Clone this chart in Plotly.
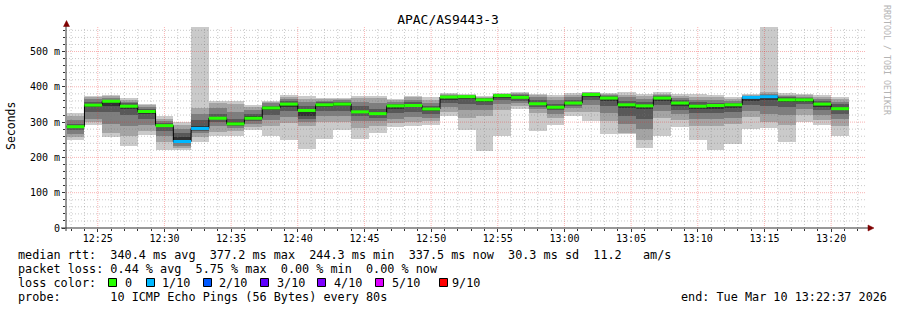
import plotly.graph_objects as go
import pandas as pd

# ---------------- data ----------------
TITLE = "APAC/AS9443-3"
FIRST_BAR = "2026-03-10 12:22:40"
STEP_SECONDS = 80
WINDOW_START = "2026-03-10 12:22:37"
WINDOW_END = "2026-03-10 13:22:37"

# 10 sorted ping round-trip times (ms) for every 80 s step
ping_ms = [
    [248, 259, 266, 278, 284, 290, 296, 307, 318, 326],
    [293, 300, 310, 330, 343, 352, 358, 366, 371, 375],
    [257, 270, 295, 330, 345, 361, 364, 369, 373, 376],
    [231, 262, 290, 320, 338, 348, 354, 358, 364, 368],
    [264, 276, 292, 310, 324, 333, 338, 343, 348, 352],
    [220, 245, 262, 275, 285, 293, 298, 304, 310, 316],
    [222, 227, 233, 240, 244, 258, 268, 280, 292, 299],
    [243, 258, 268, 276, 280, 290, 305, 322, 340, 569],
    [260, 271, 288, 300, 308, 314, 322, 340, 354, 361],
    [260, 275, 284, 290, 293, 300, 310, 330, 350, 359],
    [278, 285, 294, 302, 308, 316, 322, 333, 342, 349],
    [261, 288, 305, 320, 334, 342, 347, 353, 357, 361],
    [250, 297, 315, 332, 344, 353, 360, 366, 372, 378],
    [225, 290, 300, 308, 318, 335, 346, 358, 366, 373],
    [252, 300, 318, 332, 343, 350, 356, 361, 365, 368],
    [278, 300, 318, 332, 345, 353, 358, 362, 365, 368],
    [252, 282, 302, 316, 326, 332, 345, 358, 368, 375],
    [269, 288, 302, 312, 320, 326, 338, 355, 368, 375],
    [285, 298, 310, 325, 336, 347, 352, 357, 362, 366],
    [288, 300, 315, 330, 342, 349, 356, 364, 370, 375],
    [293, 302, 312, 322, 332, 339, 346, 355, 364, 370],
    [316, 330, 342, 355, 364, 372, 375, 378, 380, 382],
    [278, 311, 335, 352, 365, 373, 375, 377, 378, 380],
    [217, 316, 335, 348, 358, 365, 367, 369, 371, 373],
    [260, 335, 352, 362, 371, 376, 378, 380, 381, 383],
    [338, 345, 354, 360, 366, 372, 376, 379, 382, 385],
    [276, 326, 336, 343, 348, 354, 362, 370, 376, 380],
    [292, 312, 324, 333, 338, 344, 352, 362, 370, 376],
    [316, 330, 340, 346, 352, 358, 364, 372, 378, 382],
    [302, 330, 348, 362, 372, 378, 380, 382, 384, 385],
    [267, 302, 325, 345, 360, 369, 373, 376, 379, 382],
    [266, 270, 295, 318, 340, 350, 360, 370, 378, 385],
    [226, 250, 280, 310, 336, 348, 358, 366, 374, 380],
    [260, 312, 332, 348, 360, 369, 373, 377, 381, 385],
    [285, 305, 322, 335, 347, 356, 362, 368, 375, 380],
    [248, 290, 308, 325, 338, 347, 356, 364, 372, 379],
    [222, 290, 308, 325, 338, 348, 355, 362, 370, 376],
    [237, 295, 312, 328, 340, 350, 355, 360, 365, 370],
    [281, 315, 332, 348, 360, 371, 373, 375, 377, 379],
    [283, 300, 322, 345, 362, 373, 376, 380, 385, 569],
    [245, 293, 320, 342, 356, 365, 370, 374, 378, 382],
    [300, 321, 338, 350, 358, 365, 368, 372, 376, 379],
    [292, 305, 320, 334, 344, 353, 360, 366, 372, 378],
    [262, 290, 308, 322, 333, 341, 350, 358, 366, 372],
]

median_ms = [287, 348, 359, 345, 330, 290, 245, 282, 311, 295, 311, 340, 351, 333,
             349, 351, 329, 324, 346, 347, 337, 371, 372, 363, 375, 370, 352, 342,
             354, 378, 368, 349, 346, 368, 354, 345, 347, 349, 370, 372, 363, 363,
             351, 338]

lost_pings = [0, 0, 0, 0, 0, 0, 1, 1, 0, 0, 0, 0, 0, 0, 0, 0, 0, 0, 0, 0, 0, 0,
              0, 0, 0, 0, 0, 0, 0, 0, 0, 0, 0, 0, 0, 0, 0, 0, 1, 1, 0, 0, 0, 0]

loss_labels = ["0", "1/10", "2/10", "3/10", "4/10", "5/10", "9/10"]
loss_lost_counts = [0, 1, 2, 3, 4, 5, 9]
loss_colors = ["#26ff00", "#00b8ff", "#0059ff", "#5e00ff", "#7e00ff", "#dd00ff", "#ff0000"]

y_tick_vals = [0, 100, 200, 300, 400, 500]
y_tick_text = ["0", "100 m", "200 m", "300 m", "400 m", "500 m"]
Y_MAX = 569.4

line_median = "median rtt:  340.4 ms avg  377.2 ms max  244.3 ms min  337.5 ms now  30.3 ms sd  11.2   am/s"
line_loss = "packet loss: 0.44 % avg  5.75 % max  0.00 % min  0.00 % now"
line_color = "loss color:"
line_probe = "probe:       10 ICMP Echo Pings (56 Bytes) every 80s"
line_end = "end: Tue Mar 10 13:22:37 2026"
y_title = "Seconds"
credit = "RRDTOOL / TOBI OETIKER"

# ---------------- styles / layout ----------------
SMOKE = ["#cacaca", "#a4a4a4", "#7e7e7e", "#585858", "#323232"]
MONO = "DejaVu Sans Mono"
W, H = 897, 310
L, R, T, B = 66, 31, 27, 82
PW, PH = W - L - R, H - T - B


def px(x):
    return (x - L) / PW


def py(y):
    return (T + PH - y) / PH


def nb(s):
    return s.replace(" ", "\u00a0")


fmt = "%Y-%m-%d %H:%M:%S"
t_first = pd.Timestamp(FIRST_BAR)
step = pd.Timedelta(seconds=STEP_SECONDS)
n = len(median_ms)
starts = [t_first + step * i for i in range(n)]
ends = [s + step for s in starts]
centers = [(s + step / 2).strftime(fmt) for s in starts]

fig = go.Figure()

# smoke layers (outer pair first, innermost last)
for k in range(5):
    lo = [p[k] for p in ping_ms]
    hi = [p[9 - k] for p in ping_ms]
    fig.add_trace(go.Bar(
        x=centers, y=[h - l for h, l in zip(hi, lo)], base=lo,
        width=STEP_SECONDS * 1000,
        marker=dict(color=SMOKE[k], line=dict(width=0)),
        hoverinfo="skip", showlegend=False,
    ))

# grid (drawn over the smoke like rrdtool)
w0, w1 = pd.Timestamp(WINDOW_START), pd.Timestamp(WINDOW_END)
minor_y = [v for v in range(20, int(Y_MAX), 20) if v % 100]
major_y = [v for v in y_tick_vals if v > 0]
minutes = pd.date_range(w0.ceil("min"), w1, freq="min")
minor_x = [m for m in minutes if m.minute % 5]
major_x = [m for m in minutes if m.minute % 5 == 0]


def hlines(vals):
    xs, ys = [], []
    for v in vals:
        xs += [w0.strftime(fmt), w1.strftime(fmt), None]
        ys += [v, v, None]
    return xs, ys


def vlines(vals):
    xs, ys = [], []
    for v in vals:
        xs += [v.strftime(fmt), v.strftime(fmt), None]
        ys += [0, Y_MAX, None]
    return xs, ys


for (xs, ys), col, dash in [
    (hlines(minor_y), "rgba(120,120,120,0.40)", "1px,2px"),
    (vlines(minor_x), "rgba(120,120,120,0.40)", "1px,2px"),
    (hlines(major_y), "rgba(235,40,40,0.35)", "1px,1px"),
    (vlines(major_x), "rgba(235,40,40,0.35)", "1px,1px"),
]:
    fig.add_trace(go.Scatter(x=xs, y=ys, mode="lines",
                             line=dict(color=col, width=1, dash=dash),
                             hoverinfo="skip", showlegend=False))

# median step line (black) and loss-coloured median segments
fig.add_trace(go.Scatter(
    x=[s.strftime(fmt) for s in starts] + [ends[-1].strftime(fmt)],
    y=median_ms + [median_ms[-1]],
    mode="lines", line=dict(color="#000000", width=1, shape="hv"),
    hoverinfo="skip", showlegend=False,
))
for cnt, col in zip(loss_lost_counts, loss_colors):
    xs, ys = [], []
    for i in range(n):
        if lost_pings[i] == cnt:
            xs += [starts[i].strftime(fmt), ends[i].strftime(fmt), None]
            ys += [median_ms[i], median_ms[i], None]
    if xs:
        fig.add_trace(go.Scatter(x=xs, y=ys, mode="lines",
                                 line=dict(color=col, width=3),
                                 hoverinfo="skip", showlegend=False))

AXIS_COL = "#333333"
ARROW_COL = "#7f0000"
shapes = [
    dict(type="line", xref="paper", yref="paper", x0=px(61), x1=px(869), y0=0, y1=0,
         line=dict(color=AXIS_COL, width=1), layer="above"),
    dict(type="line", xref="paper", yref="paper", x0=0, x1=0, y0=py(231), y1=py(24),
         line=dict(color=AXIS_COL, width=1), layer="above"),
    dict(type="path", xref="paper", yref="paper",
         path=f"M {px(63.5)} {py(26.5)} L {px(66.5)} {py(20.5)} L {px(69.5)} {py(26.5)} Z",
         fillcolor=ARROW_COL, line=dict(color=ARROW_COL, width=0.5), layer="above"),
    dict(type="path", xref="paper", yref="paper",
         path=f"M {px(868)} {py(225)} L {px(874)} {py(228)} L {px(868)} {py(231)} Z",
         fillcolor=ARROW_COL, line=dict(color=ARROW_COL, width=0.5), layer="above"),
]

annotations = []
LEG = dict(xref="paper", yref="paper", xanchor="left", yanchor="middle", showarrow=False,
           font=dict(family=MONO, size=11.8, color="#000000"))
for txt, yy in [(line_median, 254.5), (line_loss, 268.5), (line_color, 282.5), (line_probe, 296.5)]:
    annotations.append(dict(text=nb(txt), x=px(16), y=py(yy), **LEG))
annotations.append(dict(text=nb(line_end), x=px(889), y=py(296.5),
                        xref="paper", yref="paper", xanchor="right", yanchor="middle",
                        showarrow=False, font=dict(family=MONO, size=11.8, color="#000000")))

box_x = [108, 146, 203, 260, 317, 375, 439]
lab_x = [123, 160, 217, 275, 332, 390, 450]
for bx, lx, lab, col in zip(box_x, lab_x, loss_labels, loss_colors):
    shapes.append(dict(type="rect", xref="paper", yref="paper",
                       x0=px(bx + 0.5), x1=px(bx + 8.5), y0=py(286.5), y1=py(278.5),
                       fillcolor=col, line=dict(color="#000000", width=1), layer="above"))
    annotations.append(dict(text=nb(lab), x=px(lx), y=py(282.5), **LEG))

annotations.append(dict(text=y_title, x=px(11), y=py(126), xref="paper", yref="paper",
                        textangle=-90, showarrow=False, xanchor="center", yanchor="middle",
                        font=dict(family=MONO, size=11.5, color="#000000")))
annotations.append(dict(text=nb(credit), x=px(887), y=py(60), xref="paper", yref="paper",
                        textangle=90, showarrow=False, xanchor="center", yanchor="middle",
                        font=dict(family=MONO, size=8.3, color="#b4b4b4")))

fig.update_layout(
    width=W, height=H, autosize=False,
    margin=dict(l=L, r=R, t=T, b=B, pad=0),
    paper_bgcolor="#ffffff", plot_bgcolor="#ffffff",
    barmode="overlay", bargap=0, showlegend=False,
    title=dict(text=TITLE, x=448 / W, xref="container", xanchor="center",
               y=1 - 19 / H, yref="container", yanchor="middle",
               font=dict(family=MONO, size=13, color="#000000")),
    xaxis=dict(type="date", range=[WINDOW_START, WINDOW_END],
               showgrid=False, zeroline=False, showline=False,
               tick0="2026-03-10 12:25:00", dtick=300000, tickformat="%H:%M",
               ticks="outside", ticklen=3, tickcolor=AXIS_COL, tickwidth=1,
               ticklabelstandoff=-2,
               tickfont=dict(family=MONO, size=10, color="#000000"),
               minor=dict(dtick=60000, tick0="2026-03-10 12:23:00", ticks="outside",
                          ticklen=2, tickcolor=AXIS_COL, showgrid=False),
               fixedrange=True),
    yaxis=dict(range=[0, Y_MAX], showgrid=False, zeroline=False, showline=False,
               tickvals=y_tick_vals, ticktext=y_tick_text,
               ticks="outside", ticklen=3, tickcolor=AXIS_COL, tickwidth=1,
               tickfont=dict(family=MONO, size=10, color="#000000"),
               minor=dict(dtick=20, tick0=0, ticks="outside", ticklen=2,
                          tickcolor=AXIS_COL, showgrid=False),
               fixedrange=True),
    shapes=shapes,
    annotations=annotations,
)

fig.write_html("out.html")
